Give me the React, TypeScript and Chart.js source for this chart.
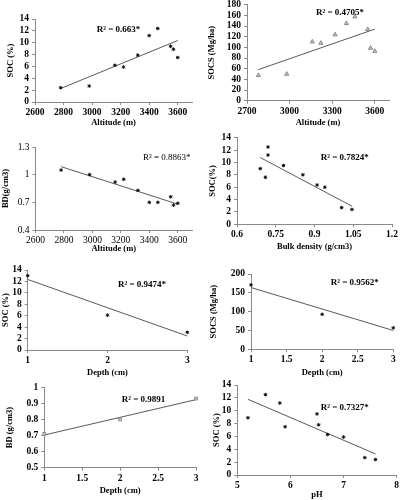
import React, { useEffect, useRef } from "react";
import { Chart, registerables } from "chart.js";
Chart.register(...registerables);

// ---------- data ----------
const altitude = [2780, 2980, 3160, 3220, 3320, 3400, 3460, 3550, 3570, 3600];
const socByAltitude = [2.4, 2.7, 6.2, 5.9, 7.9, 11.2, 12.4, 9.4, 8.9, 7.5];
const socsByAltitude = [47.5, 50, 110.6, 108, 123.8, 145, 157.5, 133.8, 98.8, 93];
const bdByAltitude = [1.05, 1.0, 0.92, 0.95, 0.83, 0.7, 0.7, 0.76, 0.67, 0.69];
const bulkDensity = [0.69, 0.71, 0.72, 0.72, 0.78, 0.855, 0.91, 0.94, 1.005, 1.045];
const socByBulkDensity = [9.0, 7.6, 12.5, 11.2, 9.5, 8.0, 6.35, 6.0, 2.7, 2.4];
const depth = [1, 2, 3];
const socByDepth = [13.0, 6.1, 3.1];
const socsByDepth = [171, 93, 57];
const bdByDepth = [0.71, 0.8, 0.93];
const pH = [5.2, 5.53, 5.8, 5.9, 6.5, 6.53, 6.7, 7.0, 7.4, 7.6];
const socByPH = [8.9, 12.5, 11.2, 7.5, 9.5, 7.8, 6.3, 5.9, 2.7, 2.4];

// ---------- tick labels ----------
const altTicksA = [2600, 2800, 3000, 3200, 3400, 3600];
const altTicksB = [2700, 3000, 3300, 3600];
const socTicks = [0, 2, 4, 6, 8, 10, 12, 14];
const socsTicksA = [0, 20, 40, 60, 80, 100, 120, 140, 160, 180];
const bdTicksA = [0.4, 0.7, 1, 1.3];
const bdTicksB = [0.6, 0.75, 0.9, 1.05, 1.2];
const depthTicksA = [1, 2, 3];
const depthTicksB = [1, 1.5, 2, 2.5, 3];
const socsTicksB = [0, 50, 100, 150, 200];
const bdTicksC = [0.5, 0.6, 0.7, 0.8, 0.9, 1];
const phTicks = [5, 6, 7, 8];

const r2Labels = [
  "R² = 0.663*",
  "R² = 0.4705*",
  "R² = 0.8863*",
  "R² = 0.7824*",
  "R² = 0.9474*",
  "R² = 0.9562*",
  "R² = 0.9891",
  "R² = 0.7327*",
];

// ---------- helpers ----------
function trend(xs: number[], ys: number[]) {
  const n = xs.length;
  const mx = xs.reduce((a, b) => a + b, 0) / n;
  const my = ys.reduce((a, b) => a + b, 0) / n;
  let sxy = 0, sxx = 0;
  for (let i = 0; i < n; i++) {
    sxy += (xs[i] - mx) * (ys[i] - my);
    sxx += (xs[i] - mx) ** 2;
  }
  const slope = sxy / sxx;
  const b = my - slope * mx;
  const lo = Math.min(...xs), hi = Math.max(...xs);
  return [{ x: lo, y: slope * lo + b }, { x: hi, y: slope * hi + b }];
}

const FAMILY = "'Liberation Serif', 'Times New Roman', serif";
const TICK_SIZE = 9.5;
const TITLE_SIZE = 8.5;
const fmt = (v: any) => String(parseFloat(Number(v).toFixed(3)));

type PanelSpec = {
  col: number; row: number;
  L: number; R: number; T: number; B: number;
  xs: number[]; ys: number[];
  xMin: number; xMax: number; yMin: number; yMax: number;
  xTicks: number[]; yTicks: number[];
  xTitle: string; yTitle: string;
  xTitleY: number; yTitleX: number;
  r2: string; r2X: number; r2Y: number;
  boldTicks: boolean; boldR2: boolean;
  marker: "star" | "triangle" | "rect";
};

const panels: PanelSpec[] = [
  { col: 0, row: 0, L: 35, R: 192, T: 19, B: 102, xs: altitude, ys: socByAltitude,
    xMin: 2600, xMax: 3700, yMin: 0, yMax: 14, xTicks: altTicksA, yTicks: socTicks,
    xTitle: "Altitude (m)", yTitle: "SOC (%)", xTitleY: 122.5, yTitleX: 10.3,
    r2: r2Labels[0], r2X: 96.7, r2Y: 30, boldTicks: true, boldR2: true, marker: "star" },
  { col: 1, row: 0, L: 247, R: 389, T: 4.7, B: 100.7, xs: altitude, ys: socsByAltitude,
    xMin: 2700, xMax: 3700, yMin: 0, yMax: 180, xTicks: altTicksB, yTicks: socsTicksA,
    xTitle: "Altitude (m)", yTitle: "SOCS (Mg/ha)", xTitleY: 122.5, yTitleX: 212,
    r2: r2Labels[1], r2X: 316, r2Y: 12.7, boldTicks: true, boldR2: true, marker: "triangle" },
  { col: 0, row: 1, L: 35.5, R: 192, T: 147, B: 230, xs: altitude, ys: bdByAltitude,
    xMin: 2600, xMax: 3700, yMin: 0.4, yMax: 1.3, xTicks: altTicksA, yTicks: bdTicksA,
    xTitle: "Altitude (m)", yTitle: "BD(g/cm3)", xTitleY: 249, yTitleX: 5.5,
    r2: r2Labels[2], r2X: 143, r2Y: 157.3, boldTicks: false, boldR2: false, marker: "star" },
  { col: 1, row: 1, L: 237, R: 392, T: 137.7, B: 224.3, xs: bulkDensity, ys: socByBulkDensity,
    xMin: 0.6, xMax: 1.2, yMin: 0, yMax: 14, xTicks: bdTicksB, yTicks: socTicks,
    xTitle: "Bulk density (g/cm3)", yTitle: "SOC(%)", xTitleY: 247, yTitleX: 212.3,
    r2: r2Labels[3], r2X: 320.7, r2Y: 157.7, boldTicks: true, boldR2: true, marker: "star" },
  { col: 0, row: 2, L: 27.7, R: 187.3, T: 270, B: 350, xs: depth, ys: socByDepth,
    xMin: 1, xMax: 3, yMin: 0, yMax: 14, xTicks: depthTicksA, yTicks: socTicks,
    xTitle: "Depth (cm)", yTitle: "SOC (%)", xTitleY: 372.5, yTitleX: 5.5,
    r2: r2Labels[4], r2X: 118, r2Y: 284.3, boldTicks: true, boldR2: true, marker: "star" },
  { col: 1, row: 2, L: 251, R: 393.3, T: 274, B: 349.3, xs: depth, ys: socsByDepth,
    xMin: 1, xMax: 3, yMin: 0, yMax: 200, xTicks: depthTicksB, yTicks: socsTicksB,
    xTitle: "Depth (cm)", yTitle: "SOCS (Mg/ha)", xTitleY: 372.5, yTitleX: 213.7,
    r2: r2Labels[5], r2X: 330.7, r2Y: 282.7, boldTicks: true, boldR2: true, marker: "star" },
  { col: 0, row: 3, L: 44.3, R: 196, T: 387.3, B: 467.7, xs: depth, ys: bdByDepth,
    xMin: 1, xMax: 3, yMin: 0.5, yMax: 1, xTicks: depthTicksB, yTicks: bdTicksC,
    xTitle: "Depth (cm)", yTitle: "BD (g/cm3)", xTitleY: 490.7, yTitleX: 10,
    r2: r2Labels[6], r2X: 121.7, r2Y: 400, boldTicks: true, boldR2: true, marker: "rect" },
  { col: 1, row: 3, L: 237.3, R: 396.7, T: 385, B: 475, xs: pH, ys: socByPH,
    xMin: 5, xMax: 8, yMin: 0, yMax: 14, xTicks: phTicks, yTicks: socTicks,
    xTitle: "pH", yTitle: "SOC (%)", xTitleY: 494.3, yTitleX: 217,
    r2: r2Labels[7], r2X: 320.7, r2Y: 407.7, boldTicks: true, boldR2: true, marker: "star" },
];

const CW = 210, CH = 155;

function Panel({ p }: { p: PanelSpec }) {
  const ref = useRef<HTMLCanvasElement>(null);
  const x0 = p.col * 200 - 5;
  const y0 = p.row * 125 - 10;
  useEffect(() => {
    const canvas = ref.current!;
    const titleLH = TITLE_SIZE * 1.2;
    const xH = p.xTitleY - p.B + titleLH / 2;
    const tickFont = { family: FAMILY, size: TICK_SIZE, weight: p.boldTicks ? "bold" : "normal" } as any;
    const titleFont = { family: FAMILY, size: TITLE_SIZE, weight: "bold", lineHeight: 1.2 } as any;
    const axisColor = "#8a8a8a";
    const pts = p.xs.map((x, i) => ({ x, y: p.ys[i] }));
    const markerStyle =
      p.marker === "star"
        ? { pointStyle: "star", pointRadius: 1.8, borderColor: "#111", backgroundColor: "#111", borderWidth: 1 }
        : p.marker === "triangle"
        ? { pointStyle: "triangle", pointRadius: 2.4, borderColor: "#8a8a8a", backgroundColor: "#c4c4c4", borderWidth: 1 }
        : { pointStyle: "rect", pointRadius: 2, borderColor: "#8a8a8a", backgroundColor: "#cfcfcf", borderWidth: 1 };
    const r2Plugin = {
      id: "r2text",
      afterDraw(chart: any) {
        const ctx = chart.ctx;
        ctx.save();
        ctx.font = `${p.boldR2 ? "bold " : ""}9px ${FAMILY}`;
        ctx.fillStyle = "#000";
        ctx.textAlign = "left";
        ctx.textBaseline = "middle";
        ctx.fillText(p.r2, p.r2X - x0, p.r2Y - y0);
        ctx.restore();
      },
    };
    const chart = new Chart(canvas, {
      type: "scatter",
      data: {
        datasets: [
          { data: pts, showLine: false, clip: false, ...markerStyle } as any,
          { data: trend(p.xs, p.ys), showLine: true, pointRadius: 0, borderColor: "#5a5a5a", borderWidth: 1, clip: false } as any,
        ],
      },
      options: {
        responsive: false,
        animation: false,
        devicePixelRatio: 1,
        layout: {
          padding: {
            left: 0,
            top: p.T - y0,
            right: x0 + CW - p.R,
            bottom: y0 + CH - (p.B + xH),
          },
        },
        plugins: { legend: { display: false }, tooltip: { enabled: false } },
        scales: {
          x: {
            type: "linear",
            min: p.xMin,
            max: p.xMax,
            afterBuildTicks: (s: any) => { s.ticks = p.xTicks.map((v) => ({ value: v })); },
            afterFit: (s: any) => { s.height = xH; },
            ticks: { font: tickFont, color: "#000", padding: 2, maxRotation: 0, minRotation: 0, autoSkip: false, callback: fmt },
            grid: { display: true, drawOnChartArea: false, drawTicks: true, tickLength: 3, color: axisColor },
            border: { display: true, color: axisColor },
            title: { display: true, text: p.xTitle, font: titleFont, color: "#000", padding: 0 },
          },
          y: {
            type: "linear",
            min: p.yMin,
            max: p.yMax,
            afterBuildTicks: (s: any) => { s.ticks = p.yTicks.map((v) => ({ value: v })); },
            afterFit: (s: any) => { s.width = p.L - x0; },
            ticks: { font: tickFont, color: "#000", padding: 3, autoSkip: false, callback: fmt },
            grid: { display: true, drawOnChartArea: false, drawTicks: true, tickLength: 3, color: axisColor },
            border: { display: true, color: axisColor },
            title: {
              display: true, text: p.yTitle, font: titleFont, color: "#000",
              padding: { top: Math.max(0, p.yTitleX - x0 - titleLH / 2), bottom: 0 },
            },
          },
        },
      } as any,
      plugins: [r2Plugin],
    });
    return () => chart.destroy();
  }, []);
  return (
    <canvas
      ref={ref}
      width={CW}
      height={CH}
      style={{ position: "absolute", left: x0, top: y0, width: CW, height: CH }}
    />
  );
}

export default function App() {
  return (
    <div style={{ position: "absolute", left: 0, top: 0, width: 400, height: 500, overflow: "hidden", background: "#fff" }}>
      {panels.map((p, i) => (
        <Panel key={i} p={p} />
      ))}
    </div>
  );
}
